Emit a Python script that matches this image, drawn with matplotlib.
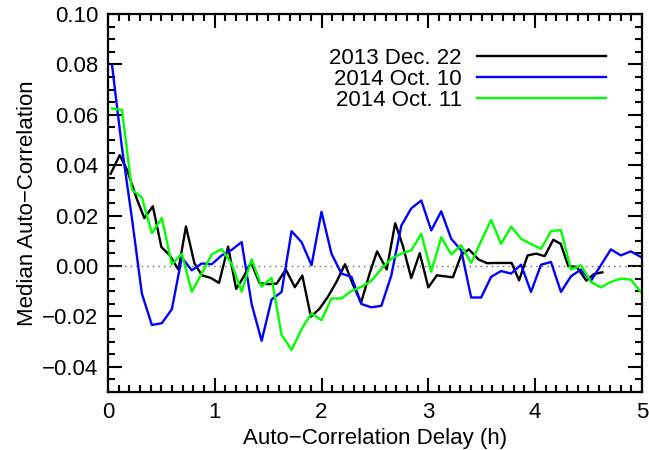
import numpy as np
import matplotlib
matplotlib.use("Agg")
import matplotlib.pyplot as plt
from matplotlib.ticker import MultipleLocator

plt.rcParams["font.family"] = ["Liberation Sans", "DejaVu Sans"]

# legend labels
labels = ["2013 Dec. 22", "2014 Oct. 10", "2014 Oct. 11"]

# 2013 Dec. 22 (black), lag in hours
lag_dec22 = [0.025, 0.11, 0.18, 0.27, 0.34, 0.42, 0.50, 0.58, 0.66, 0.73,
             0.81, 0.88, 0.96, 1.04, 1.125, 1.20, 1.27, 1.34, 1.42, 1.50,
             1.58, 1.665, 1.75, 1.82, 1.90, 1.98, 2.06, 2.14, 2.22, 2.29,
             2.37, 2.45, 2.52, 2.61, 2.69, 2.76, 2.84, 2.92, 3.00, 3.08,
             3.155, 3.23, 3.31, 3.38, 3.47, 3.55, 3.62, 3.70, 3.78, 3.85,
             3.93, 4.01, 4.09, 4.17, 4.24, 4.31, 4.39, 4.48, 4.55, 4.63]
acf_dec22 = [0.0366, 0.044, 0.038, 0.0266, 0.019, 0.0237, 0.0075, 0.0042, -0.0015, 0.0157,
             0.001, -0.0037, -0.0047, -0.0067, 0.0077, -0.0091, -0.0043, 0.0014, -0.0068, -0.0072,
             -0.0070, -0.0014, -0.0084, -0.0038, -0.0201, -0.017, -0.0122, -0.0063, 0.0007, -0.007,
             -0.0146, -0.003, 0.0058, -0.0014, 0.017, 0.0082, -0.0048, 0.0051, -0.0085, -0.0037,
             -0.0041, -0.0045, 0.0045, 0.0066, 0.0026, 0.0011, 0.0012, 0.0012, 0.0012, -0.0057,
             0.0042, 0.0049, 0.0039, 0.0104, 0.0088, 0.0000, -0.0004, -0.0058, -0.0032, -0.0025]

# 2014 Oct. 10 (blue) and Oct. 11 (green) share one lag grid
acf_oct10 = [0.080, 0.047, 0.019, -0.011, -0.0234, -0.0227, -0.0172, 0.0033, -0.0017, 0.001,
             0.0007, 0.0042, 0.0064, 0.0095, -0.0151, -0.0297, -0.0133, -0.0103, 0.0138, 0.0095,
             0.0003, 0.0215, 0.0049, -0.003, -0.0043, -0.0151, -0.0164, -0.0158, -0.0037, 0.016,
             0.0229, 0.026, 0.0141, 0.0217, 0.0108, 0.0062, -0.0125, -0.0125, -0.0043, -0.002,
             -0.003, 0.0005, -0.0103, 0.0005, 0.0016, -0.0103, -0.0041, -0.0014, -0.0059, 0.0003,
             0.0066, 0.0042, 0.0058, 0.0036]
acf_oct11 = [0.0625, 0.0619, 0.0303, 0.0272, 0.013, 0.019, 0.0007, 0.0048, -0.0102, -0.003,
             0.0046, 0.0067, 0.0009, -0.0102, 0.0027, -0.0082, -0.0047, -0.0273, -0.0333, -0.0251,
             -0.0188, -0.0215, -0.0129, -0.0129, -0.0099, -0.0083, -0.0059, -0.0011, 0.0029, 0.0049,
             0.0062, 0.0128, -0.0023, 0.0114, 0.0046, 0.0082, 0.0012, 0.0099, 0.0183, 0.0088,
             0.0156, 0.0108, 0.0087, 0.0068, 0.0138, 0.0143, -0.0014, 0.0003, -0.0063, -0.0085,
             -0.0063, -0.005, -0.0054, -0.0103]
lag_oct = np.linspace(0.037, 4.99, len(acf_oct10))

fig = plt.figure(figsize=(6.49, 4.5), dpi=100)
ax = fig.add_axes([0.1664, 0.1289, 0.8226, 0.84])

ax.axhline(0, color="0.4", ls=(0, (1, 3)), lw=1)
ax.plot(lag_dec22, acf_dec22, color="black", lw=1.7, label=labels[0])
ax.plot(lag_oct, acf_oct10, color="#0000ff", lw=1.7, label=labels[1])
ax.plot(lag_oct, acf_oct11, color="#00ff00", lw=1.7, label=labels[2])

ax.set_xlim(0, 5)
ax.set_ylim(-0.05, 0.10)
ax.xaxis.set_major_locator(MultipleLocator(1))
ax.xaxis.set_minor_locator(MultipleLocator(0.1))
ax.yaxis.set_major_locator(MultipleLocator(0.02))
ax.yaxis.set_minor_locator(MultipleLocator(0.005))
ax.yaxis.set_major_formatter(lambda v, p: f"{v:.2f}".replace("-", "\u2212"))

ax.tick_params(which="both", direction="in", top=True, right=True, width=1.5, labelsize=16)
ax.tick_params(which="major", length=10, pad=7)
ax.tick_params(which="minor", length=5)
for s in ax.spines.values():
    s.set_linewidth(1.6)

ax.set_xlabel("Auto\u2212Correlation Delay (h)", fontsize=16, labelpad=4)
ax.set_ylabel("Median Auto\u2212Correlation", fontsize=16, labelpad=3)

ax.legend(loc="upper right", bbox_to_anchor=(0.954, 0.94), frameon=False,
          markerfirst=False, handlelength=5.8, handletextpad=0.7,
          labelspacing=0.0, fontsize=16, borderpad=0)

fig.savefig("out.png", dpi=100)
